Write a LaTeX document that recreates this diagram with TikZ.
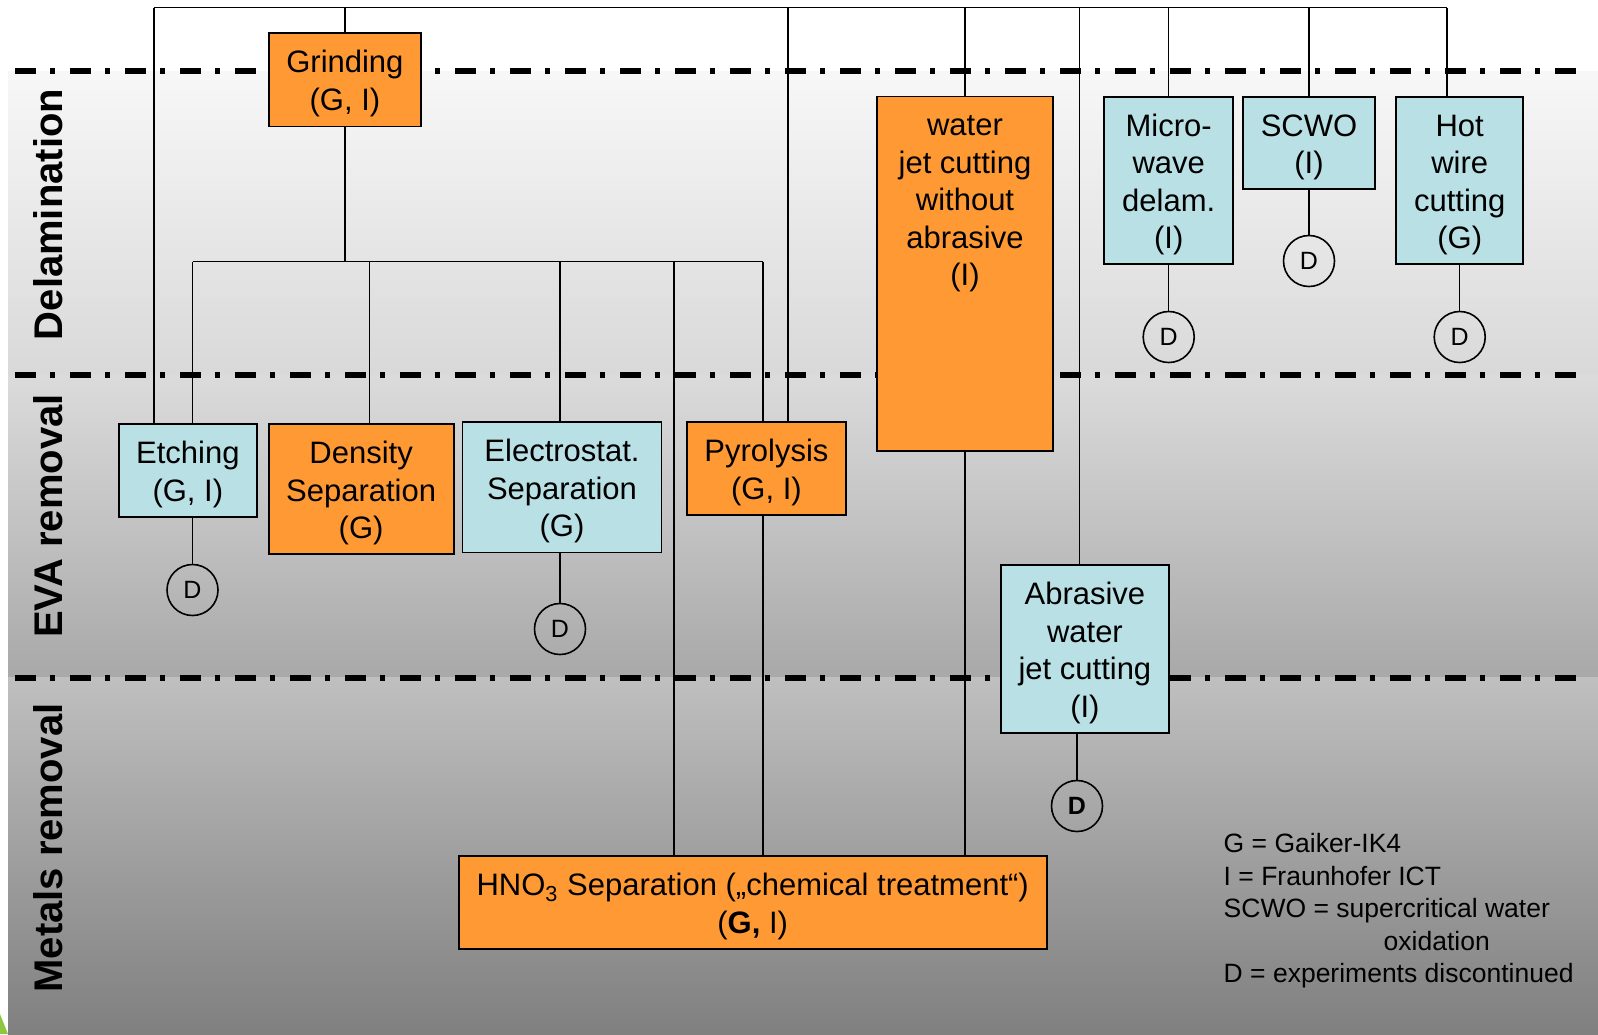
\documentclass[tikz,border=0pt]{standalone}
\usepackage{fontspec}
\setmainfont{Liberation Sans}
\usepackage{tikz}

\definecolor{procorange}{RGB}{255,153,51}
\definecolor{procblue}{RGB}{185,224,228}
\definecolor{slidegreen}{RGB}{141,198,63}
\newcommand{\tstrut}{\rule{0pt}{15.3pt}}

\begin{document}
\begin{tikzpicture}[x=0.5pt,y=-0.5pt]
        \tikzset{proc/.style = {shape=rectangle,draw,line width=0.9pt,inner sep=0pt,align=center,font=\fontsize{15.5}{18.8}\selectfont}}
        \tikzset{procor/.style = {proc,fill=procorange}}
        \tikzset{procbl/.style = {proc,fill=procblue}}
        \tikzset{dnode/.style = {shape=circle,draw,line width=0.8pt,minimum size=25.5pt,inner sep=0pt,font=\fontsize{12.5}{14}\selectfont}}
        \tikzset{dnodeb/.style = {dnode,font=\fontsize{12.5}{14}\selectfont\bfseries}}
        \tikzset{edge/.style = {line width=0.6pt}}
        \tikzset{divider/.style = {line width=3pt,dash pattern=on 10.5pt off 7pt on 2.5pt off 7.5pt}}
        \tikzset{stage/.style = {rotate=90,inner sep=0pt,font=\fontsize{20}{24}\selectfont\bfseries}}
        \tikzset{legend/.style = {align=left,inner sep=0pt,font=\fontsize{13.25}{16.25}\selectfont}}
        % background
        \fill[white] (0,0) rectangle (1598,1034);
        \useasboundingbox (0,0) rectangle (1598,1034);
        \shade[top color=black!3,bottom color=black!15] (8,71) rectangle (1598,375);
        \shade[top color=black!14,bottom color=black!34] (8,375) rectangle (1598,677.7);
        \shade[top color=black!25,bottom color=black!50] (8,677.7) rectangle (1598,1034);
        \fill[slidegreen] (0,1014) -- (8,1034) -- (0,1034) -- cycle;
        % dividers
        \draw[divider] (15,71.3) -- (1583,71.3);
        \draw[divider] (15,375) -- (1583,375);
        \draw[divider] (15,677.7) -- (1583,677.7);
        % stages
        \node[stage] (lblD) at (48,214.5) {Delamination};
        \node[stage] (lblE) at (48,516) {EVA removal};
        \node[stage] (lblM) at (48,848) {Metals removal};

        % processes
        \node[procor,minimum width=76.15pt,minimum height=46.9pt] (grind) at (344.9,79.5) {\tstrut Grinding\\(G, I)};
        \node[procbl,minimum width=69.2pt,minimum height=46.5pt] (etch) at (187.8,470.2) {\tstrut Etching\\(G, I)};
        \node[procor,minimum width=92.5pt,minimum height=65.15pt] (dens) at (361.1,488.9) {\tstrut Density\\Separation\\(G)};
        \node[procbl,minimum width=99.5pt,minimum height=65.2pt] (elec) at (562,487.2) {\tstrut Electrostat.\\Separation\\(G)};
        \node[procor,minimum width=79.65pt,minimum height=46.65pt] (pyro) at (766.4,468.4) {\tstrut Pyrolysis\\(G, I)};
        \node[procor,minimum width=88.3pt,minimum height=177.1pt] (water) at (965,273.5)
             {\parbox[c][177.1pt][t]{88.3pt}{\centering\vspace*{9.5pt}water\\jet cutting\\without\\abrasive\\(I)}};
        \node[procbl,minimum width=64.35pt,minimum height=83.65pt] (micro) at (1168.7,180.4) {\tstrut Micro-\\wave\\delam.\\(I)};
        \node[procbl,minimum width=66.3pt,minimum height=46.3pt] (scwo) at (1309,143) {\tstrut SCWO\\(I)};
        \node[procbl,minimum width=63.35pt,minimum height=83.65pt] (hot) at (1459.7,180.4) {\tstrut Hot\\wire\\cutting\\(G)};
        \node[procbl,minimum width=84.15pt,minimum height=83.85pt] (abr) at (1084.9,648.9) {\tstrut Abrasive\\water\\jet cutting\\(I)};
        \node[procor,minimum width=293.95pt,minimum height=46.5pt] (hno) at (752.7,902.5)
             {\tstrut HNO\textsubscript{3} Separation („chemical treatment“)\\(\textbf{G,} I)};

        % discontinued
        \node[dnode] (dE) at (192.5,590) {D};
        \node[dnode] (dS) at (560,629) {D};
        \node[dnode] (dM) at (1168.7,337) {D};
        \node[dnode] (dC) at (1309,261) {D};
        \node[dnode] (dH) at (1459.7,337) {D};
        \node[dnodeb] (dA) at (1077,806) {D};

        % legend
        \node[legend,anchor=north west] (key) at (1223.3,833)
             {G = Gaiker-IK4\\I = Fraunhofer ICT\\SCWO = supercritical water\\\hspace*{80pt}oxidation\\D = experiments discontinued};

        % top line
        \coordinate (topL) at (154,7.5);
        \coordinate (topP) at (788,7.5);
        \coordinate (topA) at (1079.5,7.5);
        \coordinate (topR) at (1447,7.5);
        \draw[edge] (topL) -- (topR);
        \draw[edge] (topL) -- (topL |- etch.north);
        \draw[edge] (grind.north) -- (grind.north |- topL);
        \draw[edge] (topP) -- (topP |- pyro.north);
        \draw[edge] (water.north) -- (water.north |- topL);
        \draw[edge] (topA) -- (topA |- abr.north);
        \draw[edge] (micro.north) -- (micro.north |- topL);
        \draw[edge] (scwo.north) -- (scwo.north |- topL);
        \draw[edge] (topR) -- (topR |- hot.north);
        % grinding branch
        \coordinate (busL) at (192.5,261.5);
        \coordinate (busD) at (369.6,261.5);
        \coordinate (busS) at (560,261.5);
        \coordinate (busH) at (674,261.5);
        \coordinate (busR) at (763,261.5);
        \draw[edge] (grind.south) -- (grind.south |- busL);
        \draw[edge] (busL) -- (busR);
        \draw[edge] (busL) -- (busL |- etch.north);
        \draw[edge] (busD) -- (busD |- dens.north);
        \draw[edge] (busS) -- (busS |- elec.north);
        \draw[edge] (busH) -- (busH |- hno.north);
        \draw[edge] (busR) -- (busR |- pyro.north);
        \draw[edge] (busR |- pyro.south) -- (busR |- hno.north);
        \draw[edge] (water.south) -- (water.south |- hno.north);
        % to D
        \draw[edge] (dE.north) -- (dE.north |- etch.south);
        \draw[edge] (dS.north) -- (dS.north |- elec.south);
        \draw[edge] (micro.south) -- (dM.north);
        \draw[edge] (scwo.south) -- (dC.north);
        \draw[edge] (hot.south) -- (dH.north);
        \draw[edge] (dA.north) -- (dA.north |- abr.south);
\end{tikzpicture}
\end{document}
